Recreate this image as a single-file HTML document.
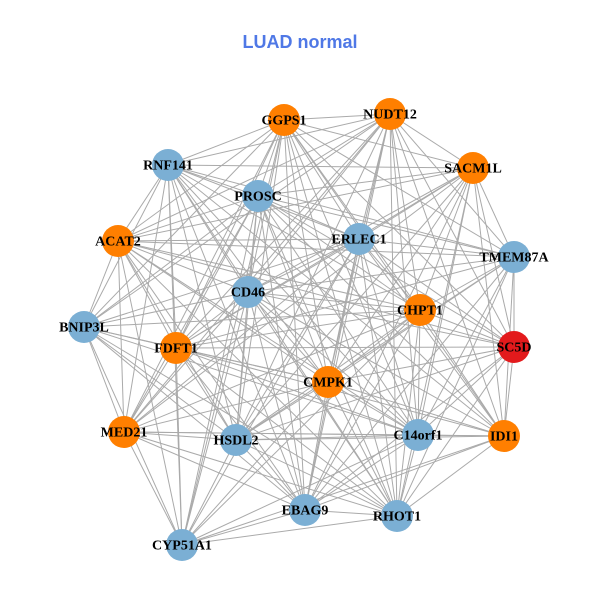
<!DOCTYPE html>
<html><head><meta charset="utf-8"><style>
html,body{margin:0;padding:0;background:#fff;}
svg{display:block;}
.t{font-family:"Liberation Serif",serif;font-weight:bold;font-size:14px;fill:#000;text-anchor:middle;dominant-baseline:central;}
</style></head><body>
<svg id="s" width="600" height="600" viewBox="0 0 600 600">
<text x="300" y="42" text-anchor="middle" dominant-baseline="central" font-family="Liberation Sans, sans-serif" font-weight="bold" font-size="18" fill="#4F78E6">LUAD normal</text>
<g id="e" stroke="#aaaaaa" stroke-width="1"></g>
<g id="n"></g>
<g>
<text class="t" x="284" y="121">GGPS1</text>
<text class="t" x="390" y="115">NUDT12</text>
<text class="t" x="168" y="166">RNF141</text>
<text class="t" x="258" y="197">PROSC</text>
<text class="t" x="473" y="169">SACM1L</text>
<text class="t" x="118" y="242">ACAT2</text>
<text class="t" x="359" y="240">ERLEC1</text>
<text class="t" x="514" y="258">TMEM87A</text>
<text class="t" x="248" y="293">CD46</text>
<text class="t" x="420" y="311">CHPT1</text>
<text class="t" x="84" y="328">BNIP3L</text>
<text class="t" x="176" y="349">FDFT1</text>
<text class="t" x="514" y="348">SC5D</text>
<text class="t" x="328" y="383">CMPK1</text>
<text class="t" x="124" y="433">MED21</text>
<text class="t" x="236" y="441">HSDL2</text>
<text class="t" x="418" y="436">C14orf1</text>
<text class="t" x="504" y="437">IDI1</text>
<text class="t" x="305" y="511">EBAG9</text>
<text class="t" x="397" y="517">RHOT1</text>
<text class="t" x="182" y="546">CYP51A1</text>
</g>
</svg>
<script>
var N=[[284,120,"o"],[390,114,"o"],[168,165,"b"],[258,196,"b"],[473,168,"o"],[118,241,"o"],[359,239,"b"],[514,257,"b"],[248,292,"b"],[420,310,"o"],[84,327,"b"],[176,348,"o"],[514,347,"r"],[328,382,"o"],[124,432,"o"],[236,440,"b"],[418,435,"b"],[504,436,"o"],[305,510,"b"],[397,516,"b"],[182,545,"b"]];
var C={o:"#FF7F00",b:"#7BAFD4",r:"#E31A1C"};
var ns="http://www.w3.org/2000/svg",E=document.getElementById("e"),G=document.getElementById("n");
var skip={"10-12":1,"10-17":1,"14-7":1,"20-4":1,"20-1":1,"20-12":1,"10-7":1,"14-12":1,"20-7":1,"5-17":1,"10-4":1,"2-12":1};
for(var i=0;i<N.length;i++)for(var j=i+1;j<N.length;j++){
 if(skip[i+"-"+j]||skip[j+"-"+i])continue;
 var l=document.createElementNS(ns,"line");
 l.setAttribute("x1",N[i][0]);l.setAttribute("y1",N[i][1]);l.setAttribute("x2",N[j][0]);l.setAttribute("y2",N[j][1]);E.appendChild(l);}
N.forEach(function(p){var c=document.createElementNS(ns,"circle");c.setAttribute("cx",p[0]);c.setAttribute("cy",p[1]);c.setAttribute("r",16);c.setAttribute("fill",C[p[2]]);G.appendChild(c);});
</script>
</body></html>
